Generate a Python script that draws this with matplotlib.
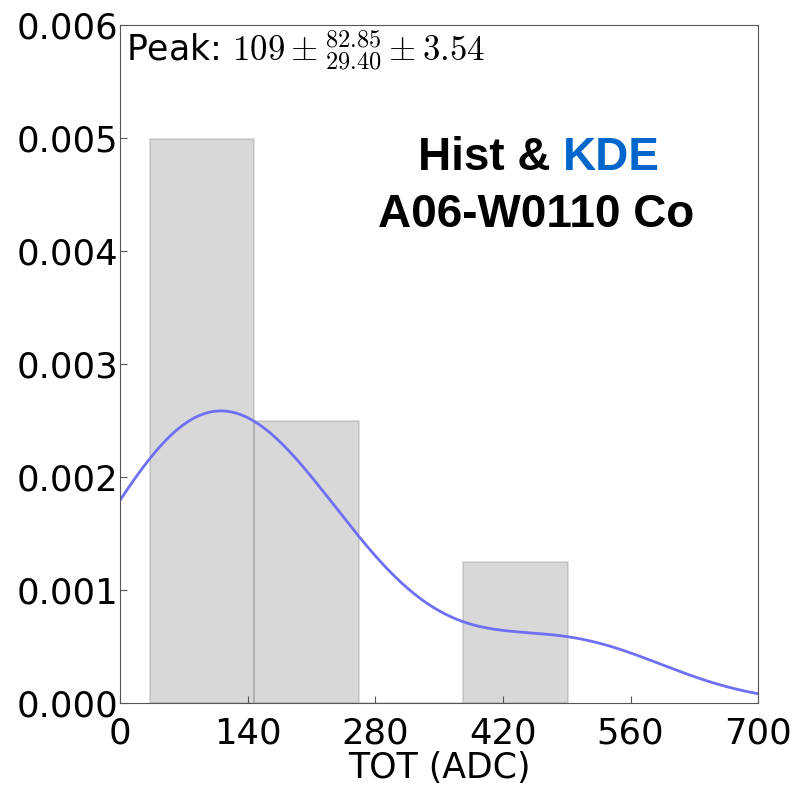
import numpy as np
import matplotlib
matplotlib.use("Agg")
from matplotlib import pyplot as plt

plt.rcParams['mathtext.fontset'] = 'cm'

# TOT values of the events
tot = np.array([33, 45, 95, 145, 152, 255, 491])
n_bins = 4
xticks = [0, 140, 280, 420, 560, 700]
yticks = [0.000, 0.001, 0.002, 0.003, 0.004, 0.005, 0.006]


def kde(x, data):
    bw = np.std(data, ddof=1) * len(data) ** (-1.0 / 5)
    z = (x[:, None] - data[None, :]) / bw
    return np.exp(-0.5 * z ** 2).sum(axis=1) / (len(data) * bw * np.sqrt(2 * np.pi))


fig = plt.figure(figsize=(7.99, 7.87), dpi=100)
ax = fig.add_axes([0.150, 0.107, 0.799, 0.861])

ax.hist(tot, bins=n_bins, density=True, color='gray', alpha=0.3,
        edgecolor='gray', linewidth=1.2)
xs = np.linspace(0, 700, 400)
ax.plot(xs, kde(xs, tot), color='#6f6ff5', lw=2)

ax.set_xlim(0, 700)
ax.set_ylim(0, 0.006)
ax.set_xticks(xticks)
ax.set_yticks(yticks)
ax.set_yticklabels(['%.3f' % v for v in yticks])
ax.tick_params(direction='in', labelsize=25.5, length=5, color='#555555')
ax.tick_params(axis='x', pad=10)
ax.tick_params(axis='y', pad=1)
for s in ax.spines.values():
    s.set_color('#555555')
ax.set_xlabel('TOT (ADC)', fontsize=25, labelpad=0)

ax.text(0.01, 0.995, r'Peak: $109 \pm^{82.85}_{29.40} \pm 3.54$', transform=ax.transAxes,
        fontsize=25, va='top', ha='left')
ax.text(0.694, 0.804, 'Hist & ', transform=ax.transAxes, fontsize=33, fontweight='bold',
        family='Liberation Sans', ha='right', va='center')
ax.text(0.694, 0.804, 'KDE', transform=ax.transAxes, fontsize=33, fontweight='bold',
        family='Liberation Sans', ha='left', va='center', color='#0066cc')
ax.text(0.652, 0.72, 'A06-W0110 Co', transform=ax.transAxes, fontsize=33, fontweight='bold',
        family='Liberation Sans', ha='center', va='center')

fig.savefig('out.png', dpi=100)
